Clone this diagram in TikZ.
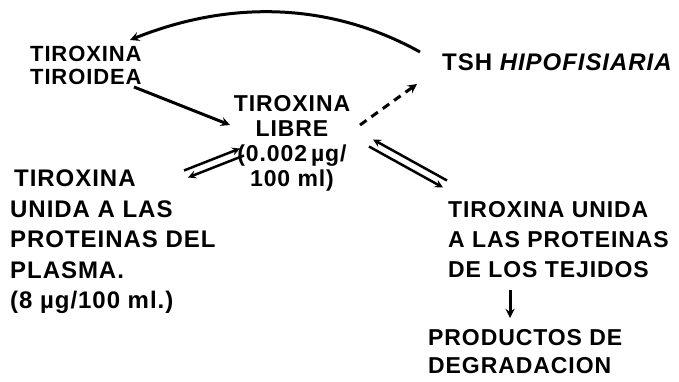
\documentclass[tikz,border=0pt]{standalone}
\usepackage{fontspec}
\setmainfont{Liberation Sans}[LetterSpace=4]
\usetikzlibrary{arrows}

\begin{document}
\begin{tikzpicture}[>=stealth, x=1pt, y=-1pt]
    \tikzstyle{format} = [inner sep=0pt, align=left,
	font=\bfseries\fontsize{22}{23}\selectfont]
    \tikzstyle{flow} = [->, line width=3pt]

	\useasboundingbox (0,0) rectangle (679,382);

	\begin{scope}
		\path
			node[format, anchor=west] (tiroidea) at (30,65) {TIROXINA\\TIROIDEA}
			node[format, align=center, font=\bfseries\fontsize{23}{25}\selectfont] (libre) at (292,143)
				{TIROXINA\\LIBRE\\(0.002\,µg/\\100 ml)}
			node[format, anchor=west, font=\bfseries\fontsize{24}{26}\selectfont] (tsh) at (442,62)
				{TSH \textit{HIPOFISIARIA}}
			node[format, anchor=west, font=\bfseries\fontsize{24}{30.5}\selectfont] (plasma) at (10,242)
				{\,TIROXINA\\UNIDA A LAS\\PROTEINAS DEL\\PLASMA.\\(8 µg/100 ml.)}
			node[format, anchor=west, font=\bfseries\fontsize{23}{30}\selectfont] (tejidos) at (448,240)
				{TIROXINA UNIDA\\A LAS PROTEINAS\\DE LOS TEJIDOS}
			node[format, anchor=west, font=\bfseries\fontsize{23}{28}\selectfont] (productos) at (428,352)
				{PRODUCTOS DE\\DEGRADACION}
		;

		% arrow ends
		\coordinate (tshA) at (420,52);
		\coordinate (tirA) at (130,40);
		\coordinate (tirB) at (134,87);
		\coordinate (libA) at (230,125);
		\coordinate (libB) at (360,125);
		\coordinate (tshB) at (417,84);
		\coordinate (plA) at (186,174);
		\coordinate (libC) at (242,152);
		\coordinate (libD) at (371,143);
		\coordinate (tejA) at (445,184);
		\coordinate (tejB) at (510,290);
		\coordinate (prA) at (510,318);

		\draw[flow] (tshA) .. controls (330,2) and (230,0) .. (tirA);
		\draw[flow] (tirB) -- (libA);
		\draw[flow, dash pattern=on 8pt off 6pt] (libB) -- (tshB);

		\draw[flow, line width=2.5pt, transform canvas={shift={(-2pt,3.5pt)}}] (plA) -- (libC);
		\draw[flow, line width=2.5pt, transform canvas={shift={(2pt,-3.5pt)}}] (libC) -- (plA);

		\draw[flow, line width=2.5pt, transform canvas={shift={(2pt,3.5pt)}}] (tejA) -- (libD);
		\draw[flow, line width=2.5pt, transform canvas={shift={(-2pt,-3.5pt)}}] (libD) -- (tejA);

		\draw[flow] (tejB) -- (prA);
	\end{scope}
\end{tikzpicture}
\end{document}
